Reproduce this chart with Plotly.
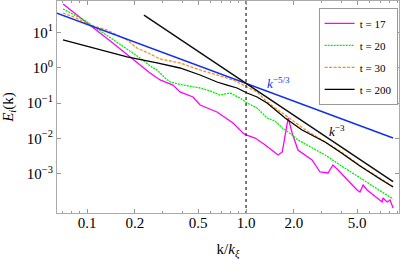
import plotly.graph_objects as go

# ---- data ----
k17 = [0.0706, 0.0957, 0.103, 0.140, 0.216, 0.249, 0.288, 0.347, 0.384, 0.464, 0.514, 0.657, 0.828, 0.957, 1.0,
       1.14, 1.32, 1.59, 1.69, 1.84, 1.95, 2.12, 2.60, 2.92, 3.28, 3.52, 3.79, 4.32, 4.99, 5.21, 5.45, 5.77,
       6.67, 7.17, 7.27, 7.71, 8.05, 8.41]
E17 = [63, 22.3, 16.5, 5.68, 1.19, 0.71, 0.45, 0.324, 0.206, 0.149, 0.0883, 0.0561, 0.0274, 0.0143, 0.0126,
       0.0103, 0.00655, 0.00342, 0.00416, 0.0379, 0.0143, 0.00473, 0.00247, 0.00113, 0.00106, 0.00178, 0.00129,
       0.000673, 0.000351, 0.000308, 0.000486, 0.000351, 0.000208, 0.000161, 0.000208, 0.000161, 0.000183, 0.000109]

k20 = [0.0706, 0.0841, 0.0957, 0.1044, 0.1298, 0.1614, 0.2155, 0.249, 0.2756, 0.3096, 0.3327, 0.4018, 0.514,
       0.594, 0.686, 0.793, 0.917, 1.015, 1.173, 1.356, 1.522, 1.69, 1.84, 2.12, 2.60, 3.14, 3.90, 4.99, 6.48, 8.41]
E20 = [45.5, 30.4, 22.3, 17.2, 8.79, 4.52, 1.88, 1.12, 0.861, 0.512, 0.394, 0.324, 0.267, 0.220, 0.169, 0.193,
       0.139, 0.1007, 0.0727, 0.0379, 0.0312, 0.0198, 0.0153, 0.00908, 0.00539, 0.00342, 0.00178, 0.000873,
       0.000427, 0.000195]

k30 = [0.0706, 0.0841, 0.1044, 0.1336, 0.1786, 0.206, 0.249, 0.288, 0.384, 0.514, 0.657, 0.717, 0.828, 1.015,
       1.173, 1.32, 1.522, 1.76, 2.35, 3.14, 3.90, 5.21, 6.97, 8.41]
E30 = [35.1, 26.2, 16.1, 11.6, 6.06, 3.60, 2.44, 1.76, 1.36, 0.861, 0.622, 0.546, 0.450, 0.285, 0.206, 0.122,
       0.0727, 0.0461, 0.0178, 0.0080, 0.0044, 0.00172, 0.00075, 0.00044]

k200 = [0.0706, 0.1122, 0.1786, 0.2756, 0.384, 0.514, 0.657, 0.760, 0.878, 1.015, 1.173, 1.356, 1.457, 1.76,
        2.25, 3.14, 3.90, 5.21, 6.97, 8.41]
E200 = [6.06, 3.49, 2.01, 1.36, 0.98, 0.622, 0.394, 0.324, 0.267, 0.193, 0.149, 0.1007, 0.0776, 0.0379, 0.0174,
        0.00796, 0.00416, 0.00167, 0.000718, 0.000427]

series_names = ["t = 17", "t = 20", "t = 30", "t = 200"]

# reference power laws E = A k^p
ref_A = 0.36
ref53_k = [0.0647, 8.41]
ref3_k = [0.228, 8.41]
ref53_p = -5.0 / 3.0
ref3_p = -3.0

xtick_vals = [0.1, 0.2, 0.5, 1.0, 2.0, 5.0]
xtick_text = ["0.1", "0.2", "0.5", "1.0", "2.0", "5.0"]
xminor_vals = [0.07, 0.08, 0.09, 0.3, 0.4, 0.6, 0.7, 0.8, 0.9, 3, 4, 6, 7, 8, 9]
ytick_vals = [10, 1, 0.1, 0.01, 0.001]
ytick_text = ["10<sup>1</sup>", "10<sup>0</sup>", "10<sup>−1</sup>", "10<sup>−2</sup>", "10<sup>−3</sup>"]

FONT = "Liberation Serif"

fig = go.Figure()

styles = [
    dict(color="#FF00FF", width=1.3, dash="solid"),
    dict(color="#00F000", width=1.3, dash="2px,1px"),
    dict(color="#FF8C1A", width=1.3, dash="3px,1.5px"),
    dict(color="#000000", width=1.3, dash="solid"),
]
for name, kk, ee, st in zip(series_names, [k17, k20, k30, k200], [E17, E20, E30, E200], styles):
    fig.add_trace(go.Scatter(x=kk, y=ee, mode="lines", name=name, line=st, legendgroup=name))

# reference lines
fig.add_trace(go.Scatter(x=ref53_k, y=[ref_A * k ** ref53_p for k in ref53_k], mode="lines",
                         line=dict(color="#1030F0", width=1.5), showlegend=False))
fig.add_trace(go.Scatter(x=ref3_k, y=[ref_A * k ** ref3_p for k in ref3_k], mode="lines",
                         line=dict(color="#111111", width=1.5), showlegend=False))
# vertical dotted line at k = k_xi
fig.add_trace(go.Scatter(x=[1.0, 1.0], y=[1e-6, 1e3], mode="lines",
                         line=dict(color="#222222", width=1.2, dash="dot"), showlegend=False))

fig.add_annotation(x=0.119, y=-0.432, xref="x", yref="y", text="<i>k</i><sup>−5/3</sup>",
                   showarrow=False, xanchor="left", yanchor="middle",
                   font=dict(family=FONT, size=13, color="#1030F0"))
fig.add_annotation(x=0.509, y=-1.79, xref="x", yref="y", text="<i>k</i><sup>−3</sup>",
                   showarrow=False, xanchor="left", yanchor="middle",
                   font=dict(family=FONT, size=13, color="black"))

fig.update_layout(
    width=415, height=260,
    margin=dict(l=57, r=16, t=1, b=47, autoexpand=False),
    paper_bgcolor="white", plot_bgcolor="white",
    font=dict(family=FONT, size=15, color="black"),
    legend=dict(x=0.765, y=0.968, xanchor="left", yanchor="top",
                bordercolor="#999999", borderwidth=1, bgcolor="white",
                font=dict(family=FONT, size=11), itemwidth=30, tracegroupgap=3),
)
fig.update_xaxes(type="log", range=[-1.189, 0.962], tickvals=xtick_vals, ticktext=xtick_text,
                 ticks="inside", ticklen=4, tickcolor="#999999", showline=True, linecolor="#aaaaaa",
                 linewidth=1, mirror="ticks", showgrid=False, zeroline=False, automargin=False,
                 ticklabelstandoff=-4,
                 minor=dict(tickvals=xminor_vals, ticks="inside", ticklen=2, tickcolor="#999999", showgrid=False),
                 title=dict(text="k/<i>k</i><sub><i>ξ</i></sub>", font=dict(family=FONT, size=15)))
fig.update_yaxes(type="log", range=[-4.105, 1.884], tickvals=ytick_vals, ticktext=ytick_text,
                 ticks="inside", ticklen=4, tickcolor="#999999", showline=True, linecolor="#aaaaaa",
                 linewidth=1, mirror="ticks", showgrid=False, zeroline=False, automargin=False,
                 title=dict(text="<i>E<sub>i</sub></i>(k)", font=dict(family=FONT, size=15)))

fig.write_html("out.html", config={"displayModeBar": False},
               post_script="document.body.style.margin='0';")
